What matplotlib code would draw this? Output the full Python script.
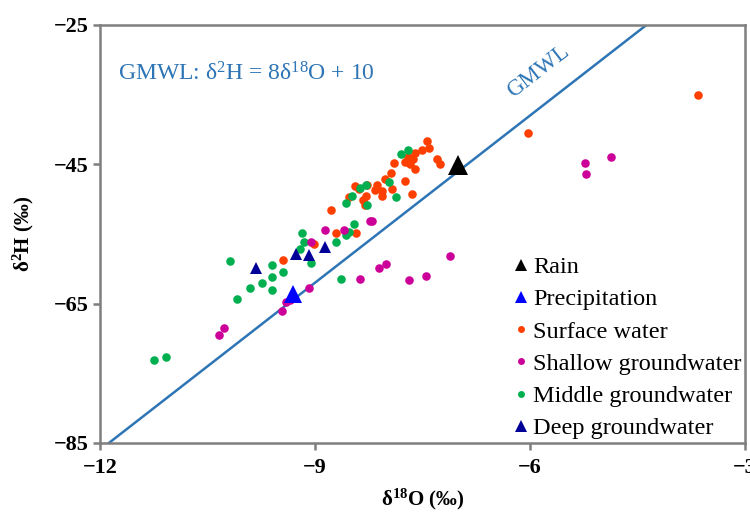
import numpy as np
import matplotlib
matplotlib.use('Agg')
import matplotlib.pyplot as plt
from matplotlib.lines import Line2D

plt.rcParams['font.family'] = ['Liberation Serif', 'DejaVu Serif']
plt.rcParams['mathtext.fontset'] = 'custom'
plt.rcParams['mathtext.rm'] = 'Liberation Serif'
plt.rcParams['mathtext.it'] = 'Liberation Serif:italic'
plt.rcParams['mathtext.bf'] = 'Liberation Serif:bold'

# 同位素样品数据 (δ18O, δ2H)
rain_o = [-7.0]
rain_h = [-45.1]

precip_o = [-9.31]
precip_h = [-63.6]

surface_o = [-7.43, -7.41, -7.51, -7.60, -7.70, -7.63, -7.74, -7.67, -7.60, -7.90,
             -7.30, -7.26, -7.94, -8.02, -7.74, -7.65, -7.93, -8.06, -8.13, -8.16,
             -8.07, -8.28, -8.44, -8.38, -8.53, -8.33, -8.29, -8.30, -8.77, -8.70,
             -8.43, -9.01, -9.45, -6.03, -3.66]
surface_h = [-41.7, -42.7, -43.0, -43.4, -43.9, -44.3, -44.6, -44.9, -45.7, -44.8,
             -44.3, -44.9, -46.2, -47.1, -47.4, -49.3, -48.5, -48.9, -48.0, -48.7,
             -49.6, -48.0, -48.1, -48.6, -49.7, -50.1, -49.6, -50.8, -51.6, -54.9,
             -54.8, -56.4, -58.8, -40.5, -35.1]

shallow_o = [-8.86, -8.59, -8.23, -8.20, -9.06, -7.11, -8.01, -8.10, -8.37, -7.69,
             -7.45, -9.08, -9.35, -9.40, -9.46, -10.27, -10.34, -5.23, -5.22, -4.87]
shallow_h = [-54.4, -54.4, -53.1, -53.1, -56.1, -58.2, -59.3, -59.9, -61.4, -61.6,
             -61.0, -62.8, -64.5, -64.7, -66.1, -68.5, -69.5, -44.8, -46.4, -44.0]

middle_o = [-7.80, -7.70, -7.97, -7.87, -8.37, -8.29, -8.49, -8.57, -8.28, -8.46,
            -8.52, -8.57, -8.70, -9.18, -9.16, -9.21, -9.06, -9.60, -9.45, -9.60,
            -9.74, -9.91, -9.60, -10.09, -10.18, -8.63, -11.24, -11.08]
middle_h = [-43.5, -42.9, -47.6, -49.7, -48.4, -48.0, -49.6, -50.6, -50.8, -53.6,
            -54.7, -55.1, -56.1, -54.9, -56.2, -57.1, -59.1, -59.5, -60.4, -61.2,
            -62.1, -62.7, -63.1, -64.3, -58.9, -61.5, -73.1, -72.6]

deep_o = [-9.82, -9.27, -9.08, -8.86]
deep_h = [-59.9, -57.9, -58.0, -56.8]

# 全球大气降水线 GMWL: δ2H = 8δ18O + 10
gmwl_x = np.array([-12.0, -4.375])
gmwl_y = 8 * gmwl_x + 10

line_c = '#2E75B6'
axis_c = '#7F7F7F'

fig = plt.figure(figsize=(7.5, 5.13), dpi=100)
ax = fig.add_axes([0.1333, 0.1365, 0.86, 0.8148])

ax.plot(gmwl_x, gmwl_y, color=line_c, lw=1.8, zorder=2, clip_on=True)

ax.scatter(surface_o, surface_h, s=38, color='#FF3F00', lw=0, zorder=3)
ax.scatter(middle_o, middle_h, s=38, color='#00B050', lw=0, zorder=3)
ax.scatter(shallow_o, shallow_h, s=38, color='#CC0099', lw=0, zorder=3)
ax.plot(deep_o, deep_h, '^', ms=9, color='#000099', mew=0, zorder=4)
ax.plot(precip_o, precip_h, '^', ms=12.5, color='#0000FF', mew=0, zorder=4)
ax.plot(rain_o, rain_h, '^', ms=14.5, color='black', mew=0, zorder=4)

ax.set_xlim(-12, -3)
ax.set_ylim(-85, -25)
ax.set_xticks([-12, -9, -6, -3])
ax.set_yticks([-85, -65, -45, -25])

for sp in ax.spines.values():
    sp.set_color(axis_c)
    sp.set_linewidth(1.8)
ax.tick_params(direction='out', length=5, width=1.8, color=axis_c,
               labelsize=16, pad=3)
ax.tick_params(axis='x', pad=6)
for lab in ax.get_xticklabels() + ax.get_yticklabels():
    lab.set_fontweight('bold')

ax.set_xlabel(r'δ$^{\mathbf{18}}$O (‰)', fontsize=15, fontweight='bold', labelpad=6)
ax.set_ylabel(r'δ$^{\mathbf{2}}$H (‰)', fontsize=15, fontweight='bold', labelpad=13)

# 方程和斜线标注
ax.text(-11.75, -32.0, r'GMWL: δ$^{2}$H = 8δ$^{18}$O + 10', color=line_c,
        fontsize=17, ha='left', va='center')
p1 = ax.transData.transform((-12, -86))
p2 = ax.transData.transform((-4.375, -25))
ang = np.degrees(np.arctan2(p2[1] - p1[1], p2[0] - p1[0]))
ax.text(-5.88, -31.7, 'GMWL', color=line_c, fontsize=16.5, rotation=ang,
        rotation_mode='anchor', ha='center', va='center')

handles = [
    Line2D([], [], ls='none', marker='^', ms=9, color='black', mew=0),
    Line2D([], [], ls='none', marker='^', ms=9, color='#0000FF', mew=0),
    Line2D([], [], ls='none', marker='o', ms=5, color='#FF3F00', mew=0),
    Line2D([], [], ls='none', marker='o', ms=5, color='#CC0099', mew=0),
    Line2D([], [], ls='none', marker='o', ms=5, color='#00B050', mew=0),
    Line2D([], [], ls='none', marker='^', ms=9, color='#000099', mew=0),
]
labels = ['Rain', 'Precipitation', 'Surface water', 'Shallow groundwater',
          'Middle groundwater', 'Deep groundwater']
ax.legend(handles, labels, loc='lower right', bbox_to_anchor=(1.0, 0.0),
          frameon=False, fontsize=17.5, handlelength=0.6, handletextpad=0.2,
          labelspacing=0.42, borderpad=0.1, borderaxespad=0.05)

fig.savefig('out.png', dpi=100)
